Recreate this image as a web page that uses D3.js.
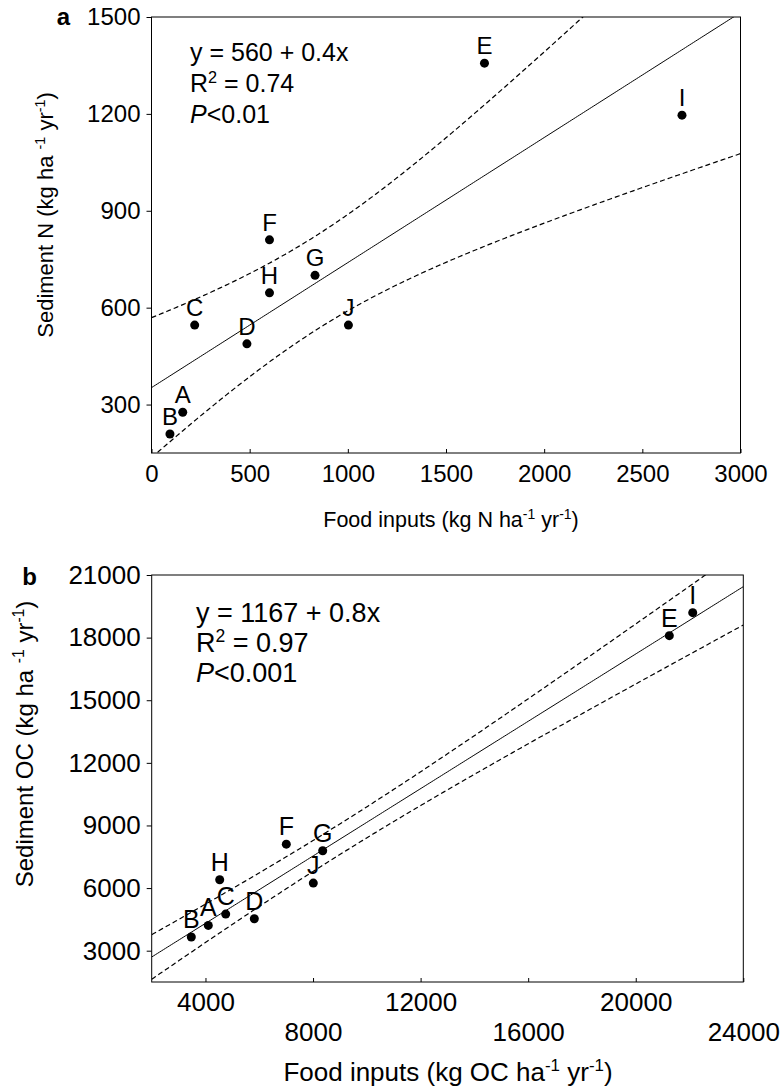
<!DOCTYPE html>
<html><head><meta charset="utf-8">
<script src="https://cdn.jsdelivr.net/npm/d3@7"></script>
<style>
body{margin:0;background:#fff}
text{font-family:"Liberation Sans",Arial,sans-serif;fill:#000}
</style>
</head><body>
<svg id="c" width="782" height="1090"></svg>
<script>
// ---------- data ----------
const sites  = ["A","B","C","D","E","F","G","H","I","J"];
const foodN  = [159, 94, 220, 486, 1696, 601, 833, 601, 2702, 1003];
const sedN   = [276, 209, 546, 488, 1357, 810, 700, 646, 1196, 546];
const foodOC = [4105, 3473, 4752, 5816, 21249, 7006, 8359, 4529, 22119, 8010];
const sedOC  = [4210, 3654, 4755, 4530, 18095, 8105, 7786, 6398, 19196, 6238];
const ticksNx  = [0, 500, 1000, 1500, 2000, 2500, 3000];
const ticksNy  = [300, 600, 900, 1200, 1500];
const ticksOCx = [4000, 8000, 12000, 16000, 20000, 24000];
const ticksOCy = [3000, 6000, 9000, 12000, 15000, 18000, 21000];
const statsN  = {eq: "y = 560 + 0.4x", r2: "0.74", p: "<0.01"};
const statsOC = {eq: "y = 1167 + 0.8x", r2: "0.97", p: "<0.001"};
const tCrit = 2.306; // t(0.975, df = 8) for 95% confidence band

const svg = d3.select("#c");

function fit(xs, ys){
  const n = xs.length, mx = d3.mean(xs), my = d3.mean(ys);
  let sxx = 0, sxy = 0;
  xs.forEach((v,i)=>{ sxx += (v-mx)**2; sxy += (v-mx)*(ys[i]-my); });
  const b = sxy/sxx, a = my - b*mx;
  let sse = 0;
  xs.forEach((v,i)=>{ sse += (ys[i]-(a+b*v))**2; });
  return {a, b, mx, sxx, n, s: Math.sqrt(sse/(n-2))};
}

function supText(sel, parts, fs){
  // parts: [text, kind] with kind "n" normal, "s" superscript, "i" italic
  let pending = 0;
  parts.forEach(([t,k])=>{
    const ts = sel.append("tspan").text(t);
    if(k==="s"){
      ts.attr("font-size", fs*0.65).attr("dy", pending - fs*0.38);
      pending = fs*0.38;
    } else {
      if(pending) ts.attr("dy", pending);
      pending = 0;
      if(k==="i") ts.attr("font-style","italic");
    }
  });
}

function panel(cfg){
  const {id, xs, ys, xDomain, yDomain, box, xTicks, yTicks, stagger, fs} = cfg;
  const x = d3.scaleLinear().domain(xDomain).range([box.l, box.r]);
  const y = d3.scaleLinear().domain(yDomain).range([box.b, box.t]);
  const g = svg.append("g");
  svg.append("clipPath").attr("id", id+"clip").append("rect")
    .attr("x", box.l).attr("y", box.t).attr("width", box.r-box.l).attr("height", box.b-box.t);

  const f = fit(xs, ys);
  const samples = d3.range(0, 301).map(i => xDomain[0] + (xDomain[1]-xDomain[0])*i/300);
  const half = v => tCrit*f.s*Math.sqrt(1/f.n + (v-f.mx)**2/f.sxx);
  const line = d3.line().x(d=>x(d[0])).y(d=>y(d[1]));
  const lg = g.append("g").attr("clip-path", `url(#${id}clip)`);
  lg.append("path").datum(samples.map(v=>[v, f.a+f.b*v])).attr("d", line)
    .attr("fill","none").attr("stroke","#000").attr("stroke-width",1);
  [1,-1].forEach(sgn=>{
    lg.append("path").datum(samples.map(v=>[v, f.a+f.b*v+sgn*half(v)])).attr("d", line)
      .attr("fill","none").attr("stroke","#000").attr("stroke-width",1.2).attr("stroke-dasharray","5,3");
  });

  // frame
  g.append("rect").attr("x", box.l).attr("y", box.t).attr("width", box.r-box.l).attr("height", box.b-box.t)
    .attr("fill","none").attr("stroke","#000").attr("stroke-width",1);

  // y axis
  const ya = g.append("g").attr("transform", `translate(${box.l},0)`)
    .call(d3.axisLeft(y).tickValues(yTicks).tickSize(5).tickPadding(6).tickFormat(d3.format("d")));
  ya.select(".domain").remove();
  ya.attr("font-size", fs.tick).attr("font-family", null);
  ya.selectAll("line").attr("stroke","#000");

  // x axis
  const xa = g.append("g").attr("transform", `translate(0,${box.b})`)
    .call(d3.axisBottom(x).tickValues(xTicks).tickSizeInner(-4).tickSizeOuter(0).tickPadding(12).tickFormat(d3.format("d")));
  xa.select(".domain").remove();
  xa.attr("font-size", fs.tick).attr("font-family", null);
  xa.selectAll("line").attr("stroke","#000");
  if(stagger){
    xa.selectAll("text").attr("y", (d,i)=> i%2 ? 41 : 11);
  }

  // points
  g.selectAll("circle.pt").data(xs).join("circle").attr("class","pt")
    .attr("cx", (d)=>x(d)).attr("cy", (d,i)=>y(ys[i])).attr("r", 4.5).attr("fill","#000");
  g.selectAll("text.lab").data(sites).join("text").attr("class","lab")
    .attr("x", (d,i)=>x(xs[i])).attr("y", (d,i)=>y(ys[i])-9)
    .attr("text-anchor","middle").attr("font-size", fs.lab).text(d=>d);

  // stats
  const st = cfg.stats;
  g.append("text").attr("x", cfg.eqX).attr("y", cfg.eqY).attr("font-size", fs.eq).text(st.eq);
  const r2 = g.append("text").attr("x", cfg.eqX).attr("y", cfg.eqY+cfg.eqDy).attr("font-size", fs.eq);
  supText(r2, [["R","n"],["2","s"],[" = "+st.r2,"n"]], fs.eq);
  const p = g.append("text").attr("x", cfg.eqX).attr("y", cfg.eqY+2*cfg.eqDy).attr("font-size", fs.eq);
  supText(p, [["P","i"],[st.p,"n"]], fs.eq);

  // axis titles
  const xt = g.append("text").attr("x", cfg.xTitleCX).attr("y", cfg.xTitleY)
    .attr("text-anchor","middle").attr("font-size", fs.title);
  supText(xt, cfg.xTitle, fs.title);
  const yt = g.append("text").attr("transform", `translate(${cfg.yTitleX},${cfg.yTitleCY}) rotate(-90)`)
    .attr("text-anchor","middle").attr("font-size", fs.ytitle);
  supText(yt, cfg.yTitle, fs.ytitle);

  // panel letter
  g.append("text").attr("x", cfg.letterX).attr("y", cfg.letterY).attr("text-anchor","end")
    .attr("font-family","'Liberation Serif','Times New Roman',serif").attr("font-weight","bold")
    .attr("font-size", 24).text(cfg.letter);
}

panel({
  id:"a", xs: foodN, ys: sedN, xDomain:[0,3000], yDomain:[150,1500],
  box:{l:151.5, r:740.5, t:17, b:453}, xTicks: ticksNx, yTicks: ticksNy, stagger:false,
  fs:{tick:24, lab:24, eq:25, title:21.5, ytitle:22},
  stats: statsN, eqX:190, eqY:61, eqDy:31,
  xTitle:[["Food inputs (kg N ha","n"],["-1","s"],[" yr","n"],["-1","s"],[")","n"]], xTitleCX:451, xTitleY:527,
  yTitle:[["Sediment N (kg ha ","n"],["-1","s"],[" yr","n"],["-1","s"],[")","n"]], yTitleX:53, yTitleCY:215,
  letter:"a", letterX:70, letterY:25
});

panel({
  id:"b", xs: foodOC, ys: sedOC, xDomain:[2000,24000], yDomain:[1500,21000],
  box:{l:151.7, r:743.3, t:575, b:982}, xTicks: ticksOCx, yTicks: ticksOCy, stagger:true,
  fs:{tick:26, lab:25, eq:27, title:26, ytitle:24},
  stats: statsOC, eqX:196, eqY:622, eqDy:30,
  xTitle:[["Food inputs (kg OC ha","n"],["-1","s"],[" yr","n"],["-1","s"],[")","n"]], xTitleCX:448, xTitleY:1081,
  yTitle:[["Sediment OC (kg ha ","n"],["-1","s"],[" yr","n"],["-1","s"],[")","n"]], yTitleX:33, yTitleCY:744,
  letter:"b", letterX:37, letterY:585
});
</script>
</body></html>
